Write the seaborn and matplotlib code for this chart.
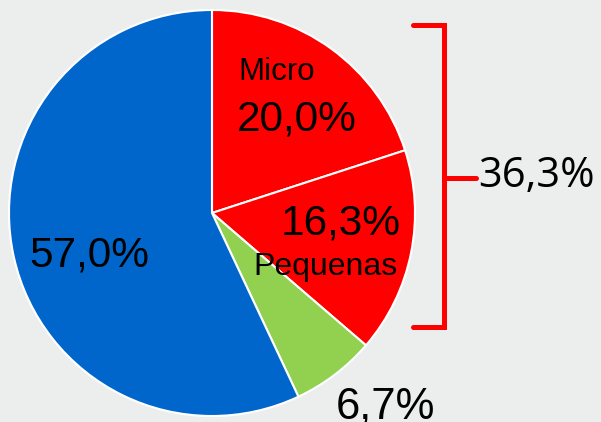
import matplotlib
matplotlib.use("Agg")
import matplotlib.pyplot as plt
import seaborn as sns

# data
categories = ["Micro", "Pequenas", "Medianas", "Grandes"]
shares = [20.0, 16.3, 6.7, 57.0]
labels = ["20,0%", "16,3%", "6,7%", "57,0%"]
group_label = "36,3%"

colors = ["#ff0000", "#ff0000", "#92d050", "#0066cc"]
bg = "#eceeee"

sns.set_theme(style="white", rc={"figure.facecolor": bg, "axes.facecolor": bg,
                                 "text.color": "black"})
plt.rcParams["font.family"] = ["Liberation Sans", "DejaVu Sans"]

fig = plt.figure(figsize=(6.01, 4.22), dpi=100)
ax = fig.add_axes([0, 0, 1, 1])

# pie in pixel coordinates
ax.pie(shares, colors=colors, startangle=90, counterclock=False,
       center=(212, 209), radius=203, frame=True,
       wedgeprops=dict(edgecolor="white", linewidth=1.5))
ax.set_xlim(0, 601)
ax.set_ylim(0, 422)
ax.axis("off")

big = 30.5
small = 22.5
ax.text(238, 342, categories[0], fontsize=small, ha="left", va="baseline")
ax.text(237, 291, labels[0], fontsize=big, ha="left", va="baseline")
ax.text(281, 188, labels[1], fontsize=big, ha="left", va="baseline")
ax.text(253, 147, categories[1], fontsize=23, ha="left", va="baseline")
ax.text(29, 155, labels[3], fontsize=big, ha="left", va="baseline")
ax.text(336, 4, labels[2], fontsize=31.5, ha="left", va="baseline")

# bracket grouping the two red slices
red = "#ff0000"
ax.plot([413, 444, 444, 413], [397, 397, 95, 95], color=red, lw=3.6,
        solid_capstyle="round", solid_joinstyle="miter")
ax.plot([444, 476], [244, 244], color=red, lw=3.6, solid_capstyle="round")
ax.text(478, 235, group_label, fontsize=30, ha="left", va="baseline",
        family=["Open Sans", "DejaVu Sans"])

fig.savefig("out.png", dpi=100, facecolor=bg)
